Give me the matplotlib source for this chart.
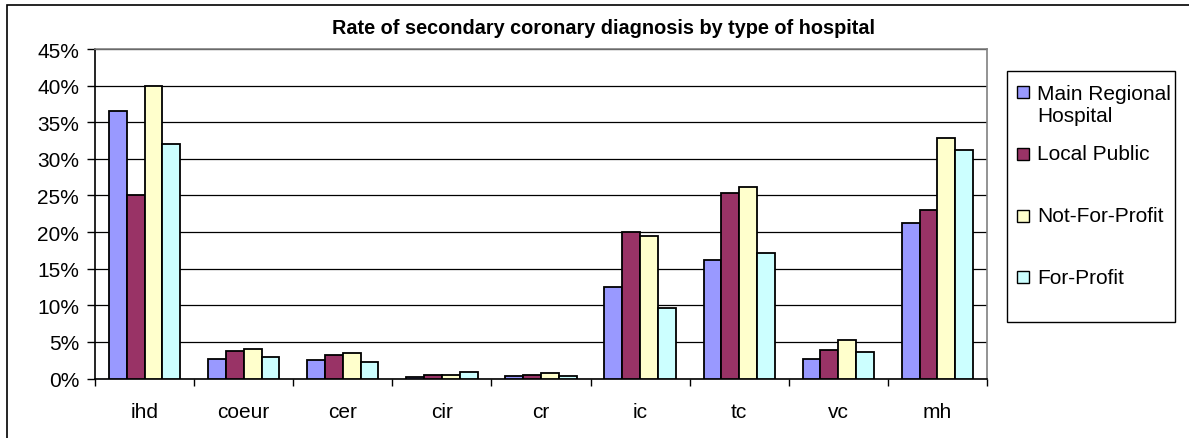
import numpy as np
import matplotlib.pyplot as plt
from matplotlib.patches import Rectangle
from matplotlib.ticker import FuncFormatter, MultipleLocator, FixedLocator, NullFormatter

plt.rcParams['font.family'] = ['Liberation Sans', 'DejaVu Sans']

categories = ['ihd', 'coeur', 'cer', 'cir', 'cr', 'ic', 'tc', 'vc', 'mh']
main_regional = [36.5, 2.7, 2.5, 0.25, 0.35, 12.5, 16.2, 2.6, 21.2]
local_public = [25.0, 3.7, 3.2, 0.5, 0.5, 20.0, 25.3, 3.85, 23.0]
not_for_profit = [40.0, 4.0, 3.5, 0.5, 0.8, 19.5, 26.1, 5.2, 32.9]
for_profit = [32.0, 2.9, 2.25, 0.85, 0.35, 9.6, 17.2, 3.6, 31.2]

series = [
    ('Main Regional\nHospital', main_regional, '#9999FF'),
    ('Local Public', local_public, '#993366'),
    ('Not-For-Profit', not_for_profit, '#FFFFCC'),
    ('For-Profit', for_profit, '#CCFFFF'),
]

W, H = 1189, 439
fig = plt.figure(figsize=(W / 100, H / 100), dpi=100)


def px(x, y):
    # pixel position (from top-left) -> figure fraction
    return x / W, 1 - y / H


# outer chart border (runs off the right and bottom edges)
fig.patches.append(Rectangle((7 / W, -0.1), 1.2, 1 - 6 / H + 0.1, transform=fig.transFigure,
                             fill=False, edgecolor='black', linewidth=1.2))

ax = fig.add_axes([95 / W, 1 - 379.5 / H, (987 - 95) / W, (379.5 - 50) / H])

x = np.arange(len(categories))
bw = 0.18
for i, (name, vals, col) in enumerate(series):
    ax.bar(x + (i - 1.5) * bw, vals, bw, color=col, edgecolor='black', linewidth=1.3,
           label=name, zorder=3)

ax.set_xlim(-0.5, len(categories) - 0.5)
ax.set_ylim(0, 45)
ax.yaxis.set_major_locator(MultipleLocator(5))
ax.yaxis.set_major_formatter(FuncFormatter(lambda v, p: '%d%%' % v))
ax.grid(axis='y', color='black', linewidth=0.9, zorder=0)

ax.xaxis.set_major_locator(FixedLocator(np.arange(-0.5, len(categories), 1)))
ax.xaxis.set_major_formatter(NullFormatter())
ax.xaxis.set_minor_locator(FixedLocator(x))
ax.set_xticklabels(categories, minor=True)
ax.tick_params(axis='x', which='major', length=5, width=1, direction='out')
ax.tick_params(axis='x', which='minor', length=0, pad=17, labelsize=15)
ax.tick_params(axis='y', length=5.5, width=1, direction='out', labelsize=15, pad=6)

for s in ['top', 'right']:
    ax.spines[s].set_color('#808080')
    ax.spines[s].set_linewidth(1.2)
for s in ['left', 'bottom']:
    ax.spines[s].set_linewidth(1.2)

fig.text(*px(604, 28), 'Rate of secondary coronary diagnosis by type of hospital',
         ha='center', va='center', fontsize=14.3, fontweight='bold')

# legend box, laid out like the spreadsheet one (uneven row spacing)
x0, y0 = px(1007, 323)
x1, y1 = px(1175, 72)
fig.patches.append(Rectangle((x0, y0), x1 - x0, y1 - y0, transform=fig.transFigure,
                             facecolor='white', edgecolor='black', linewidth=1.0))
row_y = [93, 155, 217, 278]
for (name, vals, col), ry in zip(series, row_y):
    sx, sy = px(1017, ry + 6)
    fig.patches.append(Rectangle((sx, sy), 12 / W, 12 / H, transform=fig.transFigure,
                                 facecolor=col, edgecolor='black', linewidth=1.0))
    ty = ry + 12.5 if '\n' in name else ry
    fig.text(*px(1037, ty), name, ha='left', va='center', fontsize=15, linespacing=1.15)

fig.savefig('out.png', dpi=100)
